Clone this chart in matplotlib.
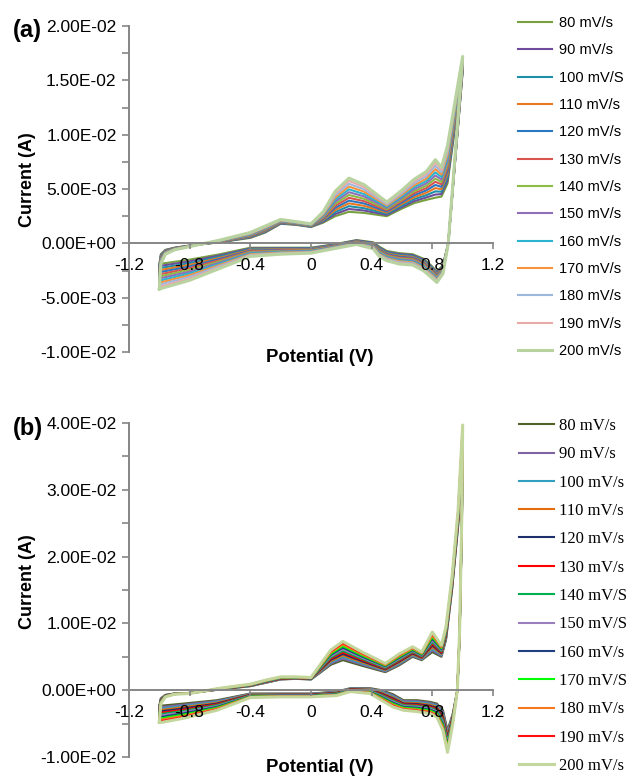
import numpy as np
import matplotlib
matplotlib.use("Agg")
import matplotlib.pyplot as plt
from matplotlib.ticker import MultipleLocator, FuncFormatter, FixedLocator, FixedFormatter

plt.rcParams['font.family'] = ['Liberation Sans', 'DejaVu Sans']

# scan rates, legend texts as printed in each panel
labels_a = ['80 mV/s', '90 mV/s', '100 mV/S', '110 mV/s', '120 mV/s', '130 mV/s', '140 mV/s',
            '150 mV/s', '160 mV/s', '170 mV/s', '180 mV/s', '190 mV/s', '200 mV/s']
labels_b = ['80 mV/s', '90 mV/s', '100 mV/s', '110 mV/s', '120 mV/s', '130 mV/s', '140 mV/S',
            '150 mV/S', '160 mV/s', '170 mV/S', '180 mV/s', '190 mV/s', '200 mV/s']
colors_a = ['#77A03F', '#6F4C9B', '#1F8FA8', '#E87722', '#2B78C2', '#D9534F', '#8DBB45',
            '#8E6FB8', '#2BB3CF', '#F7923A', '#9DB8DC', '#E8A9A8', '#B8D3A0']
colors_b = ['#4F6228', '#7F64A2', '#31A0C0', '#E46C0A', '#1F2F6B', '#FF0000', '#00B050',
            '#9B7EBD', '#1F3F7F', '#00FF00', '#F47920', '#FF1010', '#C3D69B']

x_ticks = [-1.2, -0.8, -0.4, 0, 0.4, 0.8, 1.2]
x_ticklabels = ['-1.2', '-0.8', '-0.4', '0', '0.4', '0.8', '1.2']

# ---- panel (a): current in mA, one row per potential, columns 80 ... 200 mV/s
v_fwd_a = [-1.00, -0.99, -0.96, -0.90, -0.80, -0.60, -0.40, -0.30, -0.20, -0.10, 0.00, 0.08,
           0.16, 0.25, 0.35, 0.50, 0.60, 0.68, 0.76, 0.82, 0.86, 0.90, 1.00]
i_fwd_a = [
    [-1.90, -2.09, -2.28, -2.48, -2.67, -2.86, -3.05, -3.24, -3.43, -3.63, -3.82, -4.01, -4.20],
    [-1.00, -1.08, -1.15, -1.23, -1.30, -1.38, -1.45, -1.53, -1.60, -1.68, -1.75, -1.83, -1.90],
    [-0.60, -0.63, -0.67, -0.70, -0.73, -0.77, -0.80, -0.83, -0.87, -0.90, -0.93, -0.97, -1.00],
    [-0.40, -0.42, -0.43, -0.45, -0.47, -0.48, -0.50, -0.52, -0.53, -0.55, -0.57, -0.58, -0.60],
    [-0.20, -0.21, -0.22, -0.22, -0.23, -0.24, -0.25, -0.26, -0.27, -0.28, -0.28, -0.29, -0.30],
    [0.10, 0.12, 0.13, 0.15, 0.17, 0.18, 0.20, 0.22, 0.23, 0.25, 0.27, 0.28, 0.30],
    [0.50, 0.54, 0.58, 0.63, 0.67, 0.71, 0.75, 0.79, 0.83, 0.88, 0.92, 0.96, 1.00],
    [1.00, 1.05, 1.10, 1.15, 1.20, 1.25, 1.30, 1.35, 1.40, 1.45, 1.50, 1.55, 1.60],
    [1.80, 1.83, 1.87, 1.90, 1.93, 1.97, 2.00, 2.03, 2.07, 2.10, 2.13, 2.17, 2.20],
    [1.70, 1.73, 1.75, 1.78, 1.80, 1.83, 1.85, 1.88, 1.90, 1.93, 1.95, 1.98, 2.00],
    [1.50, 1.53, 1.55, 1.58, 1.60, 1.63, 1.65, 1.68, 1.70, 1.73, 1.75, 1.78, 1.80],
    [1.90, 1.98, 2.07, 2.15, 2.23, 2.32, 2.40, 2.48, 2.57, 2.65, 2.73, 2.82, 2.90],
    [2.50, 2.69, 2.88, 3.08, 3.27, 3.46, 3.65, 3.84, 4.03, 4.23, 4.42, 4.61, 4.80],
    [2.90, 3.16, 3.42, 3.68, 3.93, 4.19, 4.45, 4.71, 4.97, 5.23, 5.48, 5.74, 6.00],
    [2.80, 3.02, 3.23, 3.45, 3.67, 3.88, 4.10, 4.32, 4.53, 4.75, 4.97, 5.18, 5.40],
    [2.50, 2.61, 2.72, 2.83, 2.93, 3.04, 3.15, 3.26, 3.37, 3.48, 3.58, 3.69, 3.80],
    [3.20, 3.34, 3.48, 3.63, 3.77, 3.91, 4.05, 4.19, 4.33, 4.48, 4.62, 4.76, 4.90],
    [3.70, 3.88, 4.07, 4.25, 4.43, 4.62, 4.80, 4.98, 5.17, 5.35, 5.53, 5.72, 5.90],
    [4.00, 4.22, 4.43, 4.65, 4.87, 5.08, 5.30, 5.52, 5.73, 5.95, 6.17, 6.38, 6.60],
    [4.20, 4.49, 4.78, 5.08, 5.37, 5.66, 5.95, 6.24, 6.53, 6.83, 7.12, 7.41, 7.70],
    [4.30, 4.53, 4.75, 4.98, 5.20, 5.43, 5.65, 5.88, 6.10, 6.33, 6.55, 6.78, 7.00],
    [5.50, 5.79, 6.08, 6.38, 6.67, 6.96, 7.25, 7.54, 7.83, 8.13, 8.42, 8.71, 9.00],
    [15.80, 15.92, 16.03, 16.15, 16.27, 16.38, 16.50, 16.62, 16.73, 16.85, 16.97, 17.08, 17.20],
]
v_rev_a = [0.95, 0.905, 0.87, 0.83, 0.79, 0.74, 0.67, 0.58, 0.50, 0.45, 0.41, 0.30, 0.15,
           0.00, -0.20, -0.40, -0.60, -0.80, -0.95]
i_rev_a = [
    [7.50, 7.55, 7.60, 7.65, 7.70, 7.75, 7.80, 7.85, 7.90, 7.95, 8.00, 8.05, 8.10],
    [0.00, 0.00, 0.00, 0.00, 0.00, 0.00, 0.00, 0.00, 0.00, 0.00, 0.00, 0.00, 0.00],
    [-2.00, -2.07, -2.13, -2.20, -2.27, -2.33, -2.40, -2.47, -2.53, -2.60, -2.67, -2.73, -2.80],
    [-2.60, -2.68, -2.77, -2.85, -2.93, -3.02, -3.10, -3.18, -3.27, -3.35, -3.43, -3.52, -3.60],
    [-2.00, -2.09, -2.18, -2.28, -2.37, -2.46, -2.55, -2.64, -2.73, -2.83, -2.92, -3.01, -3.10],
    [-1.40, -1.49, -1.58, -1.68, -1.77, -1.86, -1.95, -2.04, -2.13, -2.23, -2.32, -2.41, -2.50],
    [-1.00, -1.08, -1.17, -1.25, -1.33, -1.42, -1.50, -1.58, -1.67, -1.75, -1.83, -1.92, -2.00],
    [-0.90, -0.98, -1.07, -1.15, -1.23, -1.32, -1.40, -1.48, -1.57, -1.65, -1.73, -1.82, -1.90],
    [-0.70, -0.78, -0.85, -0.93, -1.00, -1.08, -1.15, -1.23, -1.30, -1.38, -1.45, -1.53, -1.60],
    [-0.30, -0.38, -0.45, -0.53, -0.60, -0.68, -0.75, -0.83, -0.90, -0.98, -1.05, -1.13, -1.20],
    [0.10, 0.05, 0.00, -0.05, -0.10, -0.15, -0.20, -0.25, -0.30, -0.35, -0.40, -0.45, -0.50],
    [0.30, 0.27, 0.23, 0.20, 0.17, 0.13, 0.10, 0.07, 0.03, 0.00, -0.03, -0.07, -0.10],
    [-0.10, -0.13, -0.17, -0.20, -0.23, -0.27, -0.30, -0.33, -0.37, -0.40, -0.43, -0.47, -0.50],
    [-0.40, -0.44, -0.48, -0.53, -0.57, -0.61, -0.65, -0.69, -0.73, -0.78, -0.82, -0.86, -0.90],
    [-0.40, -0.45, -0.50, -0.55, -0.60, -0.65, -0.70, -0.75, -0.80, -0.85, -0.90, -0.95, -1.00],
    [-0.40, -0.47, -0.53, -0.60, -0.67, -0.73, -0.80, -0.87, -0.93, -1.00, -1.07, -1.13, -1.20],
    [-1.00, -1.11, -1.22, -1.33, -1.43, -1.54, -1.65, -1.76, -1.87, -1.98, -2.08, -2.19, -2.30],
    [-1.50, -1.66, -1.82, -1.98, -2.13, -2.29, -2.45, -2.61, -2.77, -2.93, -3.08, -3.24, -3.40],
    [-1.80, -1.98, -2.17, -2.35, -2.53, -2.72, -2.90, -3.08, -3.27, -3.45, -3.63, -3.82, -4.00],
]

# ---- panel (b)
v_fwd_b = [-1.00, -0.99, -0.96, -0.90, -0.80, -0.60, -0.40, -0.30, -0.20, -0.10, 0.00, 0.06,
           0.13, 0.21, 0.33, 0.49, 0.58, 0.67, 0.73, 0.80, 0.86, 0.89, 0.93, 0.97, 1.00]
i_fwd_b = [
    [-2.30, -2.51, -2.72, -2.93, -3.13, -3.34, -3.55, -3.76, -3.97, -4.18, -4.38, -4.59, -4.80],
    [-1.20, -1.27, -1.33, -1.40, -1.47, -1.53, -1.60, -1.67, -1.73, -1.80, -1.87, -1.93, -2.00],
    [-0.70, -0.73, -0.75, -0.78, -0.80, -0.83, -0.85, -0.88, -0.90, -0.93, -0.95, -0.98, -1.00],
    [-0.50, -0.51, -0.52, -0.53, -0.53, -0.54, -0.55, -0.56, -0.57, -0.58, -0.58, -0.59, -0.60],
    [-0.40, -0.41, -0.42, -0.43, -0.43, -0.44, -0.45, -0.46, -0.47, -0.48, -0.48, -0.49, -0.50],
    [0.10, 0.12, 0.13, 0.15, 0.17, 0.18, 0.20, 0.22, 0.23, 0.25, 0.27, 0.28, 0.30],
    [0.60, 0.63, 0.65, 0.68, 0.70, 0.73, 0.75, 0.78, 0.80, 0.83, 0.85, 0.88, 0.90],
    [1.10, 1.13, 1.17, 1.20, 1.23, 1.27, 1.30, 1.33, 1.37, 1.40, 1.43, 1.47, 1.50],
    [1.60, 1.63, 1.67, 1.70, 1.73, 1.77, 1.80, 1.83, 1.87, 1.90, 1.93, 1.97, 2.00],
    [1.70, 1.73, 1.75, 1.78, 1.80, 1.83, 1.85, 1.88, 1.90, 1.93, 1.95, 1.98, 2.00],
    [1.60, 1.63, 1.65, 1.68, 1.70, 1.73, 1.75, 1.78, 1.80, 1.83, 1.85, 1.88, 1.90],
    [2.60, 2.70, 2.80, 2.90, 3.00, 3.10, 3.20, 3.30, 3.40, 3.50, 3.60, 3.70, 3.80],
    [3.80, 3.98, 4.17, 4.35, 4.53, 4.72, 4.90, 5.08, 5.27, 5.45, 5.63, 5.82, 6.00],
    [4.50, 4.73, 4.97, 5.20, 5.43, 5.67, 5.90, 6.13, 6.37, 6.60, 6.83, 7.07, 7.30],
    [3.70, 3.88, 4.05, 4.23, 4.40, 4.58, 4.75, 4.93, 5.10, 5.28, 5.45, 5.63, 5.80],
    [2.70, 2.81, 2.92, 3.03, 3.13, 3.24, 3.35, 3.46, 3.57, 3.68, 3.78, 3.89, 4.00],
    [3.70, 3.84, 3.98, 4.13, 4.27, 4.41, 4.55, 4.69, 4.83, 4.98, 5.12, 5.26, 5.40],
    [5.00, 5.13, 5.25, 5.38, 5.50, 5.63, 5.75, 5.88, 6.00, 6.13, 6.25, 6.38, 6.50],
    [4.50, 4.60, 4.70, 4.80, 4.90, 5.00, 5.10, 5.20, 5.30, 5.40, 5.50, 5.60, 5.70],
    [5.70, 5.95, 6.20, 6.45, 6.70, 6.95, 7.20, 7.45, 7.70, 7.95, 8.20, 8.45, 8.70],
    [5.00, 5.14, 5.28, 5.43, 5.57, 5.71, 5.85, 5.99, 6.13, 6.28, 6.42, 6.56, 6.70],
    [7.50, 7.67, 7.83, 8.00, 8.17, 8.33, 8.50, 8.67, 8.83, 9.00, 9.17, 9.33, 9.50],
    [15.00, 15.17, 15.33, 15.50, 15.67, 15.83, 16.00, 16.17, 16.33, 16.50, 16.67, 16.83, 17.00],
    [24.50, 24.71, 24.92, 25.13, 25.33, 25.54, 25.75, 25.96, 26.17, 26.38, 26.58, 26.79, 27.00],
    [36.50, 36.77, 37.03, 37.30, 37.57, 37.83, 38.10, 38.37, 38.63, 38.90, 39.17, 39.43, 39.70],
]
v_rev_b = [0.995, 0.98, 0.965, 0.935, 0.90, 0.87, 0.83, 0.785, 0.70, 0.61, 0.54, 0.465, 0.39,
           0.26, 0.17, 0.00, -0.20, -0.40, -0.62, -0.84, -0.98]
i_rev_b = [
    [25.00, 25.17, 25.33, 25.50, 25.67, 25.83, 26.00, 26.17, 26.33, 26.50, 26.67, 26.83, 27.00],
    [8.00, 8.08, 8.17, 8.25, 8.33, 8.42, 8.50, 8.58, 8.67, 8.75, 8.83, 8.92, 9.00],
    [0.00, 0.00, 0.00, 0.00, 0.00, 0.00, 0.00, 0.00, 0.00, 0.00, 0.00, 0.00, 0.00],
    [-3.50, -3.63, -3.75, -3.88, -4.00, -4.13, -4.25, -4.38, -4.50, -4.63, -4.75, -4.88, -5.00],
    [-6.00, -6.28, -6.55, -6.83, -7.10, -7.38, -7.65, -7.93, -8.20, -8.48, -8.75, -9.03, -9.30],
    [-3.00, -3.25, -3.50, -3.75, -4.00, -4.25, -4.50, -4.75, -5.00, -5.25, -5.50, -5.75, -6.00],
    [-2.00, -2.17, -2.33, -2.50, -2.67, -2.83, -3.00, -3.17, -3.33, -3.50, -3.67, -3.83, -4.00],
    [-1.75, -1.90, -2.04, -2.19, -2.33, -2.48, -2.63, -2.77, -2.92, -3.06, -3.21, -3.35, -3.50],
    [-1.50, -1.64, -1.78, -1.93, -2.07, -2.21, -2.35, -2.49, -2.63, -2.78, -2.92, -3.06, -3.20],
    [-1.50, -1.63, -1.75, -1.88, -2.00, -2.13, -2.25, -2.38, -2.50, -2.63, -2.75, -2.88, -3.00],
    [-0.60, -0.76, -0.92, -1.08, -1.23, -1.39, -1.55, -1.71, -1.87, -2.03, -2.18, -2.34, -2.50],
    [0.00, -0.13, -0.25, -0.38, -0.50, -0.63, -0.75, -0.88, -1.00, -1.13, -1.25, -1.38, -1.50],
    [0.30, 0.23, 0.17, 0.10, 0.03, -0.03, -0.10, -0.17, -0.23, -0.30, -0.37, -0.43, -0.50],
    [0.30, 0.26, 0.22, 0.18, 0.13, 0.09, 0.05, 0.01, -0.03, -0.08, -0.12, -0.16, -0.20],
    [-0.20, -0.25, -0.30, -0.35, -0.40, -0.45, -0.50, -0.55, -0.60, -0.65, -0.70, -0.75, -0.80],
    [-0.50, -0.54, -0.58, -0.63, -0.67, -0.71, -0.75, -0.79, -0.83, -0.88, -0.92, -0.96, -1.00],
    [-0.50, -0.54, -0.58, -0.63, -0.67, -0.71, -0.75, -0.79, -0.83, -0.88, -0.92, -0.96, -1.00],
    [-0.50, -0.55, -0.60, -0.65, -0.70, -0.75, -0.80, -0.85, -0.90, -0.95, -1.00, -1.05, -1.10],
    [-1.50, -1.63, -1.75, -1.88, -2.00, -2.13, -2.25, -2.38, -2.50, -2.63, -2.75, -2.88, -3.00],
    [-2.00, -2.18, -2.37, -2.55, -2.73, -2.92, -3.10, -3.28, -3.47, -3.65, -3.83, -4.02, -4.20],
    [-2.30, -2.51, -2.72, -2.93, -3.13, -3.34, -3.55, -3.76, -3.97, -4.18, -4.38, -4.59, -4.80],
]

GREY = '#868686'
W, H = 633, 784


def draw_panel(ax, v_fwd, i_fwd, v_rev, i_rev, labels, colors, ylim, major, minor):
    fwd = np.array(i_fwd).T
    rev = np.array(i_rev).T
    v = np.concatenate([v_fwd, v_rev, v_fwd[:1]])
    for k in range(len(labels)):
        cur = np.concatenate([fwd[k], rev[k], fwd[k][:1]]) * 1e-3
        lw = 2.2 if k == len(labels) - 1 else 1.5
        ax.plot(v, cur, color=colors[k], lw=lw, label=labels[k], solid_joinstyle='round')

    ax.set_xlim(-1.2, 1.2)
    ax.set_ylim(*ylim)
    ax.set_axisbelow(False)
    for s in ['top', 'right']:
        ax.spines[s].set_visible(False)
    ax.spines['bottom'].set_position(('data', 0))
    for s in ['left', 'bottom']:
        ax.spines[s].set_color(GREY)
        ax.spines[s].set_linewidth(1.4)
    ax.xaxis.set_major_locator(FixedLocator(x_ticks))
    ax.xaxis.set_major_formatter(FixedFormatter(x_ticklabels))
    ax.yaxis.set_major_locator(MultipleLocator(major))
    ax.yaxis.set_minor_locator(MultipleLocator(minor))
    ax.yaxis.set_major_formatter(FuncFormatter(lambda y, p: f'{y:.2E}'))
    ax.tick_params(axis='both', which='both', direction='out', color=GREY, width=1.2,
                   labelsize=12.5, labelcolor='black')
    ax.tick_params(axis='y', which='major', length=5, pad=4)
    ax.tick_params(axis='y', which='minor', length=5)
    ax.tick_params(axis='x', which='major', length=4, pad=6.5)


fig = plt.figure(figsize=(W / 100, H / 100), dpi=100)

ax_a = fig.add_axes([129 / W, 1 - 352 / H, 364 / W, 326 / H])
draw_panel(ax_a, v_fwd_a, i_fwd_a, v_rev_a, i_rev_a, labels_a, colors_a,
           (-0.01, 0.02), 0.005, 0.0025)
ax_a.legend(loc='upper left', bbox_to_anchor=(518 / W, 1 - 16 / H), bbox_transform=fig.transFigure,
            frameon=False, borderpad=0, borderaxespad=0, handlelength=2.33, handletextpad=0.45,
            labelspacing=0.915, fontsize=10.5)

ax_b = fig.add_axes([129 / W, 1 - 757 / H, 364 / W, 334 / H])
draw_panel(ax_b, v_fwd_b, i_fwd_b, v_rev_b, i_rev_b, labels_b, colors_b,
           (-0.01, 0.04), 0.01, 0.005)
ax_b.legend(loc='upper left', bbox_to_anchor=(519 / W, 1 - 418 / H), bbox_transform=fig.transFigure,
            frameon=False, borderpad=0, borderaxespad=0, handlelength=2.1, handletextpad=0.3,
            labelspacing=0.74, prop={'family': ['Liberation Serif', 'DejaVu Serif'], 'size': 12})

# axis titles and panel letters
for yc in (180, 582):
    fig.text(28 / W, 1 - yc / H, 'Current (A)', rotation=90, ha='center', va='center',
             fontsize=13, fontweight='bold')
for yc in (358, 768):
    fig.text(320 / W, 1 - yc / H, 'Potential (V)', ha='center', va='center',
             fontsize=13.3, fontweight='bold')
fig.text(27 / W, 1 - 31 / H, '(a)', ha='center', va='center', fontsize=17, fontweight='bold')
fig.text(28 / W, 1 - 428 / H, '(b)', ha='center', va='center', fontsize=17, fontweight='bold')

fig.savefig('out.png', dpi=100)
